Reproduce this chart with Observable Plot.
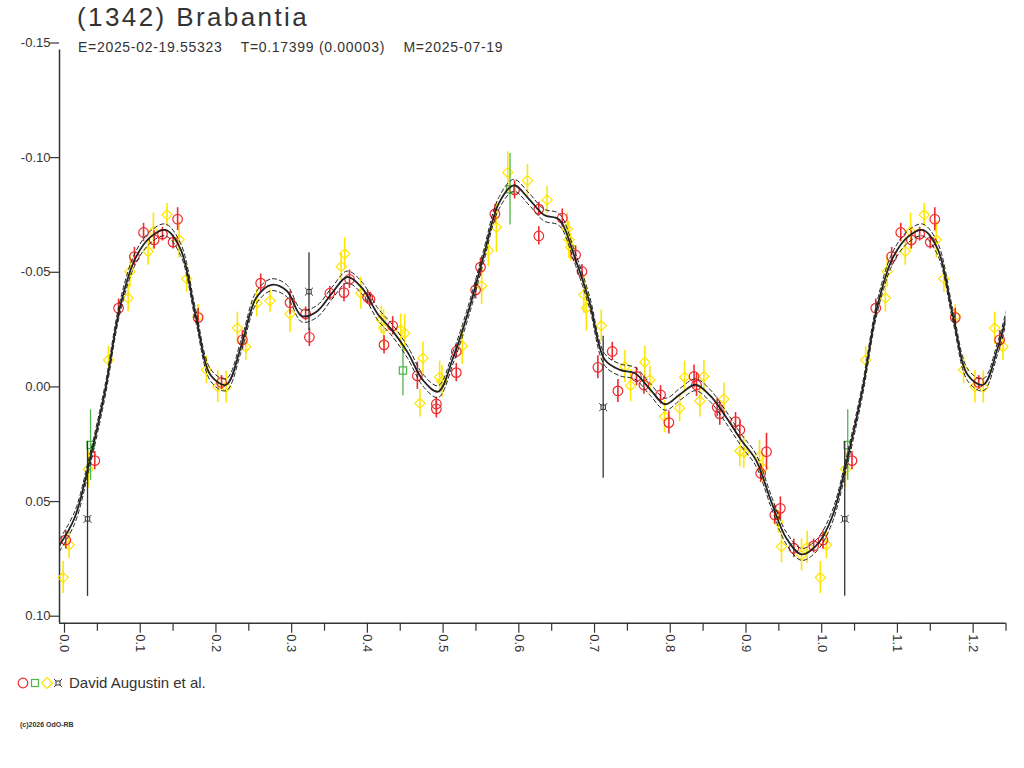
<!DOCTYPE html>
<html>
<head>
<meta charset="utf-8">
<script src="https://cdn.jsdelivr.net/npm/d3@7"></script>
<script src="https://cdn.jsdelivr.net/npm/@observablehq/plot@0.6"></script>
<style>
  html, body { margin: 0; padding: 0; background: #fff; }
  body { width: 1024px; height: 768px; position: relative; overflow: hidden; font-family: "Liberation Sans", Arial, sans-serif; color: #333; }
  #title { position: absolute; left: 77px; top: 2px; font-size: 26px; letter-spacing: 2.4px; color: #333; white-space: pre; }
  #sub { position: absolute; left: 78px; top: 39px; font-size: 14px; letter-spacing: 0.7px; color: #333; white-space: pre; }
  #chart { position: absolute; left: 0; top: 0; }
  #legend { position: absolute; left: 17px; top: 674px; font-size: 15px; color: #333; display: flex; align-items: center; white-space: pre; }
  #copy { position: absolute; left: 20px; top: 721px; font-size: 7px; color: #333; font-weight: bold; }
</style>
</head>
<body>
<div id="chart"></div>
<div id="title">(1342) Brabantia</div>
<div id="sub">E=2025-02-19.55323    T=0.17399 (0.00003)    M=2025-07-19</div>
<div id="legend"><svg width="50" height="16" style="margin-right:2px"><circle cx="6" cy="8" r="4.8" fill="none" stroke="#ee2a2f" stroke-width="1.2"/><rect x="14.5" y="4.5" width="7" height="7" fill="none" stroke="#4fb648" stroke-width="1.2"/><path d="M30,2.5 L35.5,8 L30,13.5 L24.5,8 Z" fill="none" stroke="#ffe600" stroke-width="1.2"/><path d="M39,6 h4 v4 h-4 Z M39,6 l-2,-2 M43,6 l2,-2 M43,10 l2,2 M39,10 l-2,2" fill="none" stroke="#333" stroke-width="1"/></svg><span>David Augustin et al.</span></div>
<div id="copy">(c)2026 OdO-RB</div>
<script>
// ---- fit curve (phase 0..1), magnitudes ----
const fitPhase = [0.00,0.02,0.04,0.06,0.08,0.10,0.12,0.14,0.16,0.18,0.20,0.22,0.24,0.26,0.28,0.30,0.32,0.34,0.36,0.38,0.40,0.42,0.44,0.46,0.48,0.50,0.52,0.54,0.56,0.58,0.60,0.62,0.64,0.66,0.68,0.70,0.72,0.74,0.76,0.78,0.80,0.82,0.84,0.86,0.88,0.90,0.92,0.94,0.96,0.98,1.00];
const fitMag = [0.066,0.054,0.029,-0.001,-0.038,-0.059,-0.0684,-0.0715,-0.063,-0.034,-0.008,-0.004,-0.021,-0.042,-0.0476,-0.045,-0.034,-0.036,-0.044,-0.051,-0.046,-0.035,-0.0275,-0.018,-0.006,-0.001,-0.016,-0.036,-0.060,-0.083,-0.091,-0.085,-0.078,-0.076,-0.060,-0.040,-0.015,-0.0105,-0.009,-0.002,0.0045,0.000,-0.004,0.001,0.010,0.020,0.029,0.047,0.063,0.070,0.066];
const fitBand = 0.0026;

// ---- observations: [phase, mag, error] ----
const redPts = [
  [0.0083,0.0637,0.004],[0.0466,0.0291,0.004],[0.078,-0.0374,0.004],[0.099,-0.0599,0.004],[0.111,-0.0704,0.004],
  [0.125,-0.0672,0.004],[0.136,-0.0697,0.003],[0.150,-0.0662,0.003],[0.156,-0.0762,0.005],[0.183,-0.0333,0.004],
  [0.214,-0.005,0.003],[0.2416,-0.0236,0.004],[0.2657,-0.0483,0.004],[0.3045,-0.0398,0.005],[0.325,-0.0349,0.003],
  [0.330,-0.0247,0.004],[0.357,-0.0439,0.003],[0.3757,-0.0442,0.004],[0.383,-0.050,0.004],[0.407,-0.0422,0.003],
  [0.410,-0.0413,0.003],[0.4286,-0.0214,0.004],[0.440,-0.0297,0.004],[0.4726,-0.0079,0.006],[0.4977,0.0044,0.003],
  [0.4977,0.0065,0.004],[0.524,-0.0093,0.004],[0.524,-0.0185,0.003],[0.5496,-0.0454,0.004],[0.556,-0.0553,0.004],
  [0.575,-0.0785,0.004],[0.601,-0.089,0.004],[0.633,-0.0806,0.003],[0.633,-0.0689,0.004],[0.664,-0.0767,0.004],
  [0.6816,-0.0606,0.004],[0.690,-0.0534,0.003],[0.711,-0.0116,0.005],[0.730,-0.0185,0.004],[0.7375,-0.0013,0.005],
  [0.762,-0.0076,0.004],[0.7718,-0.0039,0.004],[0.7938,0.0004,0.004],[0.8048,0.0125,0.005],[0.838,-0.0076,0.005],
  [0.8413,-0.0039,0.005],[0.8686,0.0058,0.004],[0.872,0.0087,0.005],[0.8928,0.0121,0.004],[0.8985,0.0157,0.004],
  [0.9337,0.0252,0.008],[0.926,0.0346,0.004],[0.9447,0.0528,0.004],[0.952,0.0499,0.005],[0.9698,0.0673,0.004],
  [0.996,0.0663,0.003]
];
const yellowPts = [
  [0.0048,0.0801,0.007],[0.0127,0.0659,0.006],[0.038,0.0329,0.008],[0.0647,-0.0148,0.006],[0.0906,-0.0418,0.006],
  [0.093,-0.0534,0.007],[0.117,-0.0621,0.006],[0.124,-0.0708,0.008],[0.142,-0.0781,0.005],[0.158,-0.0672,0.008],
  [0.168,-0.0502,0.006],[0.183,-0.034,0.005],[0.194,-0.0105,0.006],[0.209,-0.0032,0.007],[0.220,-0.003,0.007],
  [0.235,-0.0287,0.007],[0.246,-0.0206,0.006],[0.2605,-0.0396,0.006],[0.278,-0.0406,0.005],[0.3045,-0.0349,0.008],
  [0.372,-0.0555,0.006],[0.3766,-0.0611,0.007],[0.398,-0.0439,0.007],[0.425,-0.0323,0.006],[0.428,-0.0287,0.008],
  [0.4506,-0.0279,0.007],[0.456,-0.0265,0.008],[0.480,-0.0156,0.007],[0.476,0.0041,0.006],[0.502,-0.0073,0.007],
  [0.505,-0.0054,0.007],[0.532,-0.0209,0.008],[0.5575,-0.0471,0.008],[0.5663,-0.0625,0.007],[0.577,-0.0727,0.011],
  [0.592,-0.0966,0.009],[0.618,-0.0931,0.007],[0.644,-0.0846,0.006],[0.6706,-0.0719,0.007],[0.6727,-0.0672,0.008],
  [0.675,-0.064,0.006],[0.6926,-0.0432,0.008],[0.6957,-0.0374,0.010],[0.7155,-0.0297,0.007],[0.7467,-0.0119,0.007],
  [0.7542,-0.0036,0.007],[0.773,-0.0138,0.007],[0.7797,-0.0061,0.006],[0.799,0.0099,0.007],[0.819,0.0062,0.006],
  [0.8255,-0.0073,0.007],[0.851,-0.0076,0.007],[0.8457,0.0031,0.007],[0.8774,0.0022,0.007],[0.8985,0.0249,0.007],
  [0.9037,0.0255,0.007],[0.9245,0.0273,0.007],[0.929,0.0324,0.006],[0.949,0.0557,0.005],[0.9535,0.0666,0.007],
  [0.980,0.0702,0.007],[0.9875,0.0669,0.007]
];
const greenPts = [[0.041,0.0223,0.0154],[0.4536,-0.0102,0.011],[0.595,-0.0893,0.0156]];
const blackPts = [[0.037,0.0545,0.0338],[0.3295,-0.0446,0.017],[0.718,0.0058,0.031]];

// ---- axes ----
const xMajor = [0,0.1,0.2,0.3,0.4,0.5,0.6,0.7,0.8,0.9,1.0,1.1,1.2];
const xMinor = [0.05,0.15,0.25,0.35,0.45,0.55,0.65,0.75,0.85,0.95,1.05,1.15,1.25];
const yTicks = [-0.15,-0.10,-0.05,0.00,0.05,0.10];
const xDomain = [0, 1.25];
const yDomain = [-0.15, 0.10];

const colors = {red: "#ee2a2f", yellow: "#ffe600", green: "#4fb648", black: "#333333"};

function rows(arr) {
  const base = arr.map(([p, m, e]) => ({phase: p, mag: m, err: e}));
  const rep = base.filter(d => d.phase + 1 <= xDomain[1]).map(d => ({...d, phase: d.phase + 1}));
  return base.concat(rep);
}
const red = rows(redPts), yellow = rows(yellowPts), green = rows(greenPts), black = rows(blackPts);

const fitBase = fitPhase.map((p, i) => ({phase: p, mag: fitMag[i]}));
const fit = fitBase.concat(fitBase.filter(d => d.phase > 0 && d.phase <= 0.28).map(d => ({phase: d.phase + 1, mag: d.mag})));

const starSymbol = {
  draw(ctx, size) {
    const s = Math.sqrt(size) / 3.2, t = s * 1.8;
    ctx.moveTo(-s, -s); ctx.lineTo(s, -s); ctx.lineTo(s, s); ctx.lineTo(-s, s); ctx.closePath();
    ctx.moveTo(-s, -s); ctx.lineTo(-t, -t);
    ctx.moveTo(s, -s); ctx.lineTo(t, -t);
    ctx.moveTo(s, s); ctx.lineTo(t, t);
    ctx.moveTo(-s, s); ctx.lineTo(-t, t);
  }
};

function errBars(data, color, w) {
  return Plot.ruleX(data, {x: "phase", y1: d => d.mag - d.err, y2: d => d.mag + d.err, stroke: color, strokeWidth: w});
}

const chart = Plot.plot({
  width: 1024,
  height: 660,
  marginLeft: 59,
  marginTop: 49.5,
  marginRight: 18.5,
  marginBottom: 37.3,
  style: {fontFamily: "Liberation Sans, Arial, sans-serif", color: "#333", background: "transparent"},
  x: {domain: xDomain, axis: null},
  y: {domain: yDomain, reverse: true, axis: null},
  marks: [
    Plot.axisX(xMinor, {tickSize: 8, tickFormat: () => "", label: null, stroke: "#333", strokeWidth: 1.2}),
    Plot.axisX(xMajor, {tickSize: 10, tickRotate: 90, tickPadding: 1, dx: 5, tickFormat: d => d.toFixed(1), label: null, fontSize: 13, stroke: "#333", strokeWidth: 1.2, fill: "#333"}),
    Plot.axisY(yTicks, {tickSize: 9, tickPadding: 0, dy: -7, tickFormat: d => d.toFixed(2), label: null, fontSize: 13, stroke: "#333", strokeWidth: 1.2, fill: "#333"}),
    Plot.ruleX([xDomain[0]], {stroke: "#333", strokeWidth: 1.5}),
    Plot.ruleY([yDomain[1]], {stroke: "#333", strokeWidth: 1.5}),
    errBars(yellow, colors.yellow, 1.6),
    Plot.dot(yellow, {x: "phase", y: "mag", symbol: "diamond2", r: 4.6, stroke: colors.yellow, fill: "none", strokeWidth: 1.2}),
    errBars(red, colors.red, 1.6),
    Plot.dot(red, {x: "phase", y: "mag", symbol: "circle", r: 4.8, stroke: colors.red, fill: "none", strokeWidth: 1.2}),
    errBars(green, colors.green, 1.3),
    Plot.dot(green, {x: "phase", y: "mag", symbol: "square", r: 4.1, stroke: colors.green, fill: "none", strokeWidth: 1.2}),
    errBars(black, colors.black, 1.3),
    Plot.dot(black, {x: "phase", y: "mag", symbol: starSymbol, r: 4, stroke: colors.black, fill: "none", strokeWidth: 1}),
    Plot.line(fit, {x: "phase", y: d => d.mag - fitBand, curve: "catmull-rom", stroke: "#222", strokeWidth: 1, strokeDasharray: "4,3", clip: true}),
    Plot.line(fit, {x: "phase", y: d => d.mag + fitBand, curve: "catmull-rom", stroke: "#222", strokeWidth: 1, strokeDasharray: "4,3", clip: true}),
    Plot.line(fit, {x: "phase", y: "mag", curve: "catmull-rom", stroke: "#222", strokeWidth: 1.8, clip: true})
  ]
});
document.getElementById("chart").appendChild(chart);
</script>
</body>
</html>
